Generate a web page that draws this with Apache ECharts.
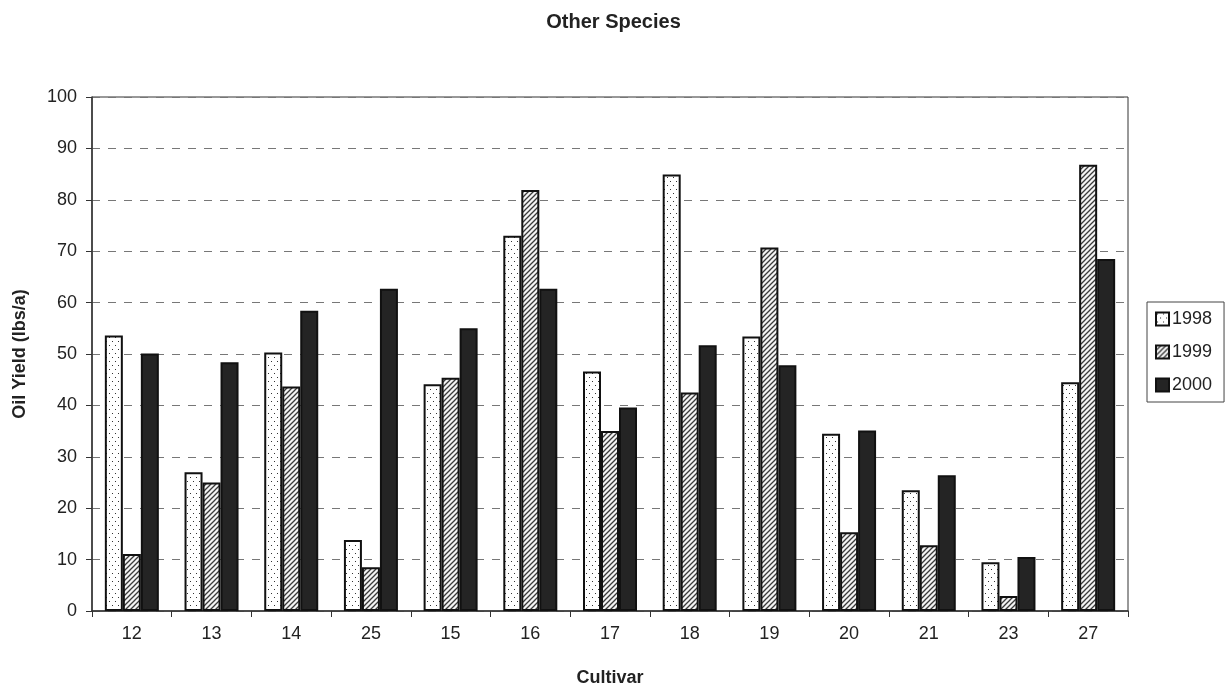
<!DOCTYPE html>
<html>
<head>
<meta charset="utf-8">
<script src="https://cdn.jsdelivr.net/npm/echarts@6/dist/echarts.min.js"></script>
<style>
  html, body { margin: 0; padding: 0; background: #ffffff; }
  #chart { width: 1227px; height: 692px; }
</style>
</head>
<body>
<div id="chart"></div>
<script>
// Oil yield by cultivar, three seasons
const cultivars = ['12', '13', '14', '25', '15', '16', '17', '18', '19', '20', '21', '23', '27'];
const yield1998 = [53.6, 27.0, 50.3, 13.8, 44.1, 73.0, 46.6, 84.9, 53.4, 34.5, 23.5, 9.5, 44.5];
const yield1999 = [11.1, 25.0, 43.7, 8.5, 45.4, 81.9, 35.0, 42.5, 70.7, 15.3, 12.8, 2.9, 86.8];
const yield2000 = [50.1, 48.4, 58.4, 62.7, 55.0, 62.7, 39.6, 51.7, 47.8, 35.1, 26.4, 10.5, 68.5];
const seasons = ['1998', '1999', '2000'];

const FONT = '"Liberation Sans", Arial, sans-serif';

// Fill patterns: dotted, diagonal hatch
function dotPattern() {
  const c = document.createElement('canvas');
  c.width = 6; c.height = 8;
  const g = c.getContext('2d');
  g.fillStyle = '#ffffff';
  g.fillRect(0, 0, 6, 8);
  g.fillStyle = '#333333';
  g.fillRect(1, 1, 1, 1);
  g.fillRect(4, 5, 1, 1);
  return c;
}
function hatchPattern() {
  const c = document.createElement('canvas');
  c.width = 5; c.height = 5;
  const g = c.getContext('2d');
  g.fillStyle = '#f4f4f4';
  g.fillRect(0, 0, 5, 5);
  g.strokeStyle = '#3a3a3a';
  g.lineWidth = 1.3;
  g.beginPath();
  g.moveTo(-1, 6); g.lineTo(6, -1);
  g.moveTo(-1, 1); g.lineTo(1, -1);
  g.moveTo(4, 6); g.lineTo(6, 4);
  g.stroke();
  return c;
}

const fills = [
  { image: dotPattern(), repeat: 'repeat' },
  { image: hatchPattern(), repeat: 'repeat' },
  '#242424'
];
const values = [yield1998, yield1999, yield2000];

const chart = echarts.init(document.getElementById('chart'));
chart.setOption({
  backgroundColor: '#ffffff',
  animation: false,
  title: {
    text: 'Other Species',
    left: 'center',
    top: 7,
    textStyle: { fontFamily: FONT, fontSize: 20, fontWeight: 'bold', color: '#222' }
  },
  legend: {
    data: seasons,
    orient: 'vertical',
    left: 1147,
    top: 302,
    icon: 'rect',
    itemWidth: 13,
    itemHeight: 13,
    itemGap: 15,
    padding: [8, 12, 8, 8],
    borderColor: '#444',
    borderWidth: 1,
    textStyle: { fontFamily: FONT, fontSize: 18, color: '#222', padding: [0, 0, 0, -2] }
  },
  grid: {
    left: 92, right: 99, top: 97, bottom: 80,
    show: true, borderColor: '#333', borderWidth: 1
  },
  xAxis: {
    type: 'category',
    data: cultivars,
    name: 'Cultivar',
    nameLocation: 'middle',
    nameGap: 58,
    nameTextStyle: { fontFamily: FONT, fontSize: 18, fontWeight: 'bold', color: '#222' },
    axisLine: { lineStyle: { color: '#333', width: 1.5 } },
    axisTick: { show: true, length: 6, lineStyle: { color: '#333' } },
    axisLabel: { fontFamily: FONT, fontSize: 18, color: '#222', margin: 14 }
  },
  yAxis: {
    type: 'value',
    min: 0, max: 100, interval: 10,
    name: 'Oil Yield (lbs/a)',
    nameLocation: 'middle',
    nameGap: 63,
    nameTextStyle: { fontFamily: FONT, fontSize: 18, fontWeight: 'bold', color: '#222' },
    axisLine: { show: true, lineStyle: { color: '#333', width: 1.5 } },
    axisTick: { show: true, length: 6, inside: false, lineStyle: { color: '#333' } },
    axisLabel: { fontFamily: FONT, fontSize: 18, color: '#222', margin: 15 },
    splitLine: { show: true, lineStyle: { color: '#777', type: [8, 8], width: 1 } }
  },
  series: seasons.map((name, i) => ({
    name: name,
    type: 'bar',
    data: values[i],
    barWidth: 18,
    barGap: '0%',
    itemStyle: { color: fills[i], borderColor: '#111', borderWidth: 2 }
  }))
});
</script>
</body>
</html>
